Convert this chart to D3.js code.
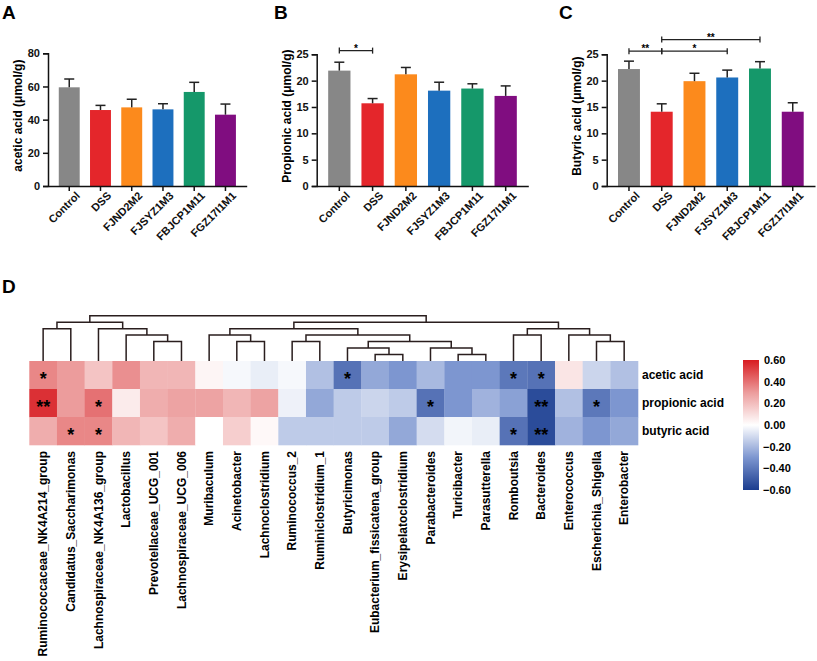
<!DOCTYPE html>
<html>
<head>
<meta charset="utf-8">
<script src="https://cdn.jsdelivr.net/npm/d3@7"></script>
<style>
  body { margin: 0; background: #fff; }
  text { font-family: "Liberation Sans", Arial, sans-serif; }
</style>
</head>
<body>
<div class="chart"></div>
<script>
// ---- bar chart data (panels A-C) ----
var groups = ["Control", "DSS", "FJND2M2", "FJSYZ1M3", "FBJCP1M11", "FGZ17I1M1"];
var groupColors = ["#878787", "#e4262b", "#fc8a1c", "#1d6fbe", "#15986a", "#800d80"];

var aceticMean = [59.5, 45.8, 47.4, 46.2, 56.7, 43.0];
var aceticErr = [5.0, 2.8, 4.9, 3.4, 5.8, 6.4];
var propionicMean = [21.9, 15.7, 21.2, 18.1, 18.5, 17.1];
var propionicErr = [1.6, 0.9, 1.3, 1.6, 0.9, 1.9];
var butyricMean = [22.2, 14.1, 19.9, 20.6, 22.3, 14.1];
var butyricErr = [1.5, 1.5, 1.5, 1.4, 1.3, 1.7];

var aceticTicks = [0, 20, 40, 60, 80];
var scfaTicks = [0, 5, 10, 15, 20, 25];

// significance brackets: [from group, to group, height (data units), label]
var sigB = [[0, 1, 25.7, "*"]];
var sigC = [[0, 1, 25.6, "**"], [1, 3, 25.6, "*"], [1, 4, 27.8, "**"]];

// ---- heatmap data (panel D) ----
var taxa = ["Ruminococcaceae_NK4A214_group", "Candidatus_Saccharimonas", "Lachnospiraceae_NK4A136_group",
  "Lactobacillus", "Prevotellaceae_UCG_001", "Lachnospiraceae_UCG_006", "Muribaculum", "Acinetobacter",
  "Lachnoclostridium", "Ruminococcus_2", "Ruminiclostridium_1", "Butyricimonas",
  "Eubacterium_fissicatena_group", "Erysipelatoclostridium", "Parabacteroides", "Turicibacter",
  "Parasutterella", "Romboutsia", "Bacteroides", "Enterococcus", "Escherichia_Shigella", "Enterobacter"];
var acids = ["acetic acid", "propionic acid", "butyric acid"];

var aceticCorr = [0.35, 0.30, 0.18, 0.33, 0.22, 0.22, 0.03, -0.02, -0.05, -0.02, -0.18,
  -0.42, -0.25, -0.30, -0.20, -0.30, -0.30, -0.40, -0.42, 0.08, -0.12, -0.18];
var propionicCorr = [0.55, 0.30, 0.40, 0.06, 0.25, 0.28, 0.28, 0.22, 0.28, -0.04, -0.25,
  -0.15, -0.12, -0.15, -0.42, -0.30, -0.22, -0.27, -0.55, -0.18, -0.40, -0.30];
var butyricCorr = [0.25, 0.35, 0.35, 0.22, 0.18, 0.25, 0.0, 0.15, 0.02, -0.15, -0.15,
  -0.15, -0.15, -0.25, -0.10, -0.03, -0.05, -0.42, -0.55, -0.22, -0.30, -0.25];

var aceticSig = ["*", "", "", "", "", "", "", "", "", "", "", "*", "", "", "", "", "", "*", "*", "", "", ""];
var propionicSig = ["**", "", "*", "", "", "", "", "", "", "", "", "", "", "", "*", "", "", "", "**", "", "*", ""];
var butyricSig = ["", "*", "*", "", "", "", "", "", "", "", "", "", "", "", "", "", "", "*", "**", "", "", ""];

// column dendrogram: [merge height, left, right], leaf = taxon index
var dendro = [7,
  [6, [5, 0, 1], [5, 2, [4, 3, [3, 4, 5]]]],
  [6,
    [5, [4, 6, [3, 7, 8]], [4, [3, 9, 10], [3, [2, 11, [1, 12, 13]], [2, 14, [1, 15, 16]]]]],
    [5, [4, 17, 18], [4, 19, [3, 20, 21]]]]];

var legendTicks = [0.6, 0.4, 0.2, 0, -0.2, -0.4, -0.6];

// ---- svg ----
var svgWidth = 817;
var svgHeight = 661;

var svg = d3.select(".chart")
  .append("svg")
  .attr("width", svgWidth)
  .attr("height", svgHeight);

// panel letters
var letters = [["A", 2, 19], ["B", 274, 19], ["C", 559, 19], ["D", 2, 293]];
svg.selectAll("text.letter")
  .data(letters)
  .enter()
  .append("text")
  .attr("class", "letter")
  .attr("x", d => d[1])
  .attr("y", d => d[2])
  .style("font-size", "19px")
  .style("font-weight", "bold")
  .text(d => d[0]);

function drawBars(p) {
  var g = svg.append("g");

  var x = d3.scaleBand()
    .domain(groups)
    .range([p.left, p.right])
    .paddingInner(0.33)
    .paddingOuter(0.345);

  var y = d3.scaleLinear()
    .domain([0, p.max])
    .range([186, p.top]);

  var rows = groups.map((k, i) => ({ name: k, mean: p.mean[i], err: p.err[i], color: groupColors[i] }));

  // bars
  g.selectAll("rect")
    .data(rows)
    .enter()
    .append("rect")
    .attr("x", d => x(d.name))
    .attr("y", d => y(d.mean))
    .attr("width", x.bandwidth())
    .attr("height", d => y(0) - y(d.mean))
    .attr("fill", d => d.color);

  // error bars (upper only)
  var eb = g.selectAll("g.err")
    .data(rows)
    .enter()
    .append("g")
    .attr("stroke", "#222")
    .attr("stroke-width", 1.5);
  eb.append("line")
    .attr("x1", d => x(d.name) + x.bandwidth() / 2)
    .attr("x2", d => x(d.name) + x.bandwidth() / 2)
    .attr("y1", d => y(d.mean))
    .attr("y2", d => y(d.mean + d.err));
  eb.append("line")
    .attr("x1", d => x(d.name) + x.bandwidth() / 2 - 5)
    .attr("x2", d => x(d.name) + x.bandwidth() / 2 + 5)
    .attr("y1", d => y(d.mean + d.err))
    .attr("y2", d => y(d.mean + d.err));

  // y axis
  var yAxis = g.append("g")
    .attr("transform", `translate(${p.left}, 0)`)
    .call(d3.axisLeft(y).tickValues(p.ticks).tickSize(5).tickPadding(3));
  yAxis.selectAll("text").style("font-size", "11px").style("font-weight", "bold").attr("fill", "#111");

  // x axis
  var xAxis = g.append("g")
    .attr("transform", `translate(0, ${y(0)})`)
    .call(d3.axisBottom(x).tickSize(5).tickSizeOuter(0));
  xAxis.selectAll("text")
    .style("font-size", "11px")
    .style("font-weight", "bold")
    .attr("fill", "#111")
    .attr("text-anchor", "end")
    .attr("dy", "0.35em")
    .attr("transform", "translate(3, 2) rotate(-45)")
    .attr("x", 0)
    .attr("y", 8);

  g.selectAll(".domain, .tick line").attr("stroke", "#111").attr("stroke-width", 1.5);

  // y label
  g.append("text")
    .attr("transform", `translate(${p.left - 26}, ${(y(0) + p.top) / 2 - 4}) rotate(-90)`)
    .attr("text-anchor", "middle")
    .style("font-size", "12px")
    .style("font-weight", "bold")
    .text(p.label);

  // significance brackets
  var s = g.selectAll("g.sig")
    .data(p.sig)
    .enter()
    .append("g")
    .attr("stroke", "#222")
    .attr("stroke-width", 1.3);
  s.append("line")
    .attr("x1", d => x(groups[d[0]]) + x.bandwidth() / 2)
    .attr("x2", d => x(groups[d[1]]) + x.bandwidth() / 2)
    .attr("y1", d => y(d[2]))
    .attr("y2", d => y(d[2]));
  s.append("line")
    .attr("x1", d => x(groups[d[0]]) + x.bandwidth() / 2)
    .attr("x2", d => x(groups[d[0]]) + x.bandwidth() / 2)
    .attr("y1", d => y(d[2]) - 3)
    .attr("y2", d => y(d[2]) + 3);
  s.append("line")
    .attr("x1", d => x(groups[d[1]]) + x.bandwidth() / 2)
    .attr("x2", d => x(groups[d[1]]) + x.bandwidth() / 2)
    .attr("y1", d => y(d[2]) - 3)
    .attr("y2", d => y(d[2]) + 3);
  g.selectAll("text.sig")
    .data(p.sig)
    .enter()
    .append("text")
    .attr("class", "sig")
    .attr("x", d => (x(groups[d[0]]) + x(groups[d[1]])) / 2 + x.bandwidth() / 2)
    .attr("y", d => y(d[2]) + 1)
    .attr("text-anchor", "middle")
    .style("font-size", "10px")
    .style("font-weight", "bold")
    .text(d => d[3]);
}

drawBars({ left: 48, right: 246.7, top: 53.3, max: 80, ticks: aceticTicks,
  mean: aceticMean, err: aceticErr, sig: [], label: "acetic acid (μmol/g)" });
drawBars({ left: 316.7, right: 528.3, top: 54.3, max: 25, ticks: scfaTicks,
  mean: propionicMean, err: propionicErr, sig: sigB, label: "Propionic acid (μmol/g)" });
drawBars({ left: 606.7, right: 815, top: 54.3, max: 25, ticks: scfaTicks,
  mean: butyricMean, err: butyricErr, sig: sigC, label: "Butyric acid (μmol/g)" });

// ---- heatmap ----
var hx = d3.scaleBand().domain(taxa).range([29.3, 638]);
var hy = d3.scaleBand().domain(acids).range([361, 445]);

var color = d3.scaleLinear()
  .domain([-0.6, -0.3, 0, 0.3, 0.6])
  .range(["#1b3d8f", "#7d96d0", "#ffffff", "#ec9c9c", "#d81b20"]);

var corrRows = [aceticCorr, propionicCorr, butyricCorr];
var sigRows = [aceticSig, propionicSig, butyricSig];
var cells = [];
acids.forEach(function(a, r) {
  taxa.forEach(function(t, c) {
    cells.push({ acid: a, taxon: t, value: corrRows[r][c], sig: sigRows[r][c] });
  });
});

var hm = svg.append("g");
hm.selectAll("rect")
  .data(cells)
  .enter()
  .append("rect")
  .attr("x", d => hx(d.taxon))
  .attr("y", d => hy(d.acid))
  .attr("width", hx.bandwidth() + 0.3)
  .attr("height", hy.bandwidth() + 0.3)
  .attr("fill", d => color(d.value));

hm.selectAll("text.star")
  .data(cells.filter(d => d.sig !== ""))
  .enter()
  .append("text")
  .attr("class", "star")
  .attr("x", d => hx(d.taxon) + hx.bandwidth() / 2)
  .attr("y", d => hy(d.acid) + hy.bandwidth() / 2 + 9.5)
  .attr("text-anchor", "middle")
  .style("font-size", "18px")
  .style("font-weight", "bold")
  .text(d => d.sig);

// row labels
hm.selectAll("text.row")
  .data(acids)
  .enter()
  .append("text")
  .attr("class", "row")
  .attr("x", 642)
  .attr("y", d => hy(d) + hy.bandwidth() / 2)
  .attr("dy", "0.35em")
  .style("font-size", "12px")
  .style("font-weight", "bold")
  .text(d => d);

// column labels
hm.selectAll("text.col")
  .data(taxa)
  .enter()
  .append("text")
  .attr("class", "col")
  .attr("transform", d => `translate(${hx(d) + hx.bandwidth() / 2}, 451) rotate(-90)`)
  .attr("dy", "0.35em")
  .attr("text-anchor", "end")
  .style("font-size", "12px")
  .style("font-weight", "bold")
  .text(d => d);

// ---- dendrogram ----
var dh = d3.scaleLinear().domain([0, 7]).range([361, 315.7]);
var dg = svg.append("g")
  .attr("stroke", "#2a1e1e")
  .attr("stroke-width", 1.5)
  .attr("fill", "none");

function drawNode(node) {
  if (typeof node === "number") {
    return { x: hx(taxa[node]) + hx.bandwidth() / 2, h: 0 };
  }
  var l = drawNode(node[1]);
  var r = drawNode(node[2]);
  var yy = dh(node[0]);
  dg.append("path")
    .attr("d", `M${l.x},${dh(l.h)}V${yy}H${r.x}V${dh(r.h)}`);
  return { x: (l.x + r.x) / 2, h: node[0] };
}
drawNode(dendro);

// ---- colour legend ----
var ly = d3.scaleLinear().domain([-0.6, 0.6]).range([490, 360]);
var grad = svg.append("defs")
  .append("linearGradient")
  .attr("id", "lg")
  .attr("x1", 0).attr("x2", 0).attr("y1", 1).attr("y2", 0);
grad.selectAll("stop")
  .data(color.domain())
  .enter()
  .append("stop")
  .attr("offset", d => (d + 0.6) / 1.2)
  .attr("stop-color", d => color(d));

svg.append("rect")
  .attr("x", 743)
  .attr("y", ly(0.6))
  .attr("width", 16)
  .attr("height", ly(-0.6) - ly(0.6))
  .attr("fill", "url(#lg)");

svg.selectAll("text.leg")
  .data(legendTicks)
  .enter()
  .append("text")
  .attr("class", "leg")
  .attr("x", d => d < 0 ? 763 : 764)
  .attr("y", d => ly(d))
  .attr("dy", "0.35em")
  .style("font-size", "11px")
  .style("font-weight", "bold")
  .text(d => d3.format(".2f")(d));
</script>
</body>
</html>
